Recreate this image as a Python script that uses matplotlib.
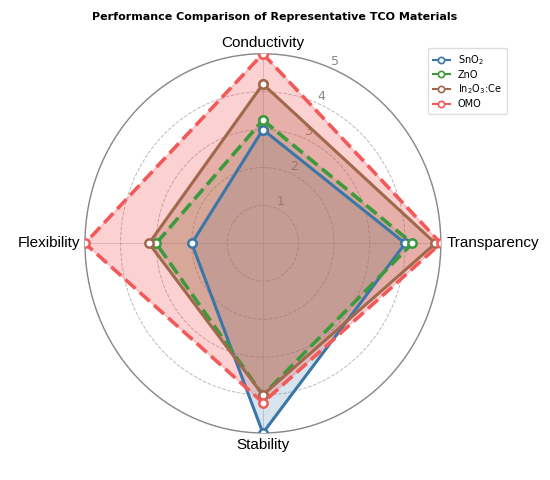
import numpy as np
import matplotlib
matplotlib.use("Agg")
import matplotlib.pyplot as plt

# axes of the radar, clockwise from the top
categories = ["Conductivity", "Transparency", "Stability", "Flexibility"]
materials = ["SnO$_2$", "ZnO", "In$_2$O$_3$:Ce", "OMO"]

sno2 = [3.0, 4.0, 5.0, 2.0]
zno = [3.25, 4.2, 4.0, 3.0]
ito_ce = [4.2, 4.85, 4.0, 3.2]
omo = [5.0, 5.0, 4.2, 5.0]

radial_ticks = [1, 2, 3, 4, 5]

colors = ["#3a76a8", "#3c9a3c", "#a0684c", "#f25a5a"]
styles = ["-", "--", "-", "--"]
fill_alpha = [0.2, 0.15, 0.3, 0.28]

angles = np.linspace(0, 2 * np.pi, len(categories), endpoint=False)
angles_closed = np.concatenate([angles, angles[:1]])

fig = plt.figure(figsize=(5.5, 4.8), dpi=100)
ax = fig.add_axes([0.1545, 0.098, 0.647, 0.79], projection="polar")
ax.set_aspect("auto")
ax.set_theta_offset(np.pi / 2)
ax.set_theta_direction(-1)

series = [sno2, zno, ito_ce, omo]
for vals, name, c, ls, fa in zip(series, materials, colors, styles, fill_alpha):
    v = np.concatenate([vals, vals[:1]])
    lw = 2.2 if ls == "-" else 2.6
    ax.plot(angles_closed, v, color=c, linestyle=ls, linewidth=lw, marker="o",
            markersize=6, markerfacecolor="white", markeredgecolor=c,
            markeredgewidth=1.8, label=name, zorder=3)
    ax.fill(angles_closed, v, color=c, alpha=fa, zorder=2)

ax.set_ylim(0, 5)
ax.set_yticks(radial_ticks)
ax.set_yticklabels([str(t) for t in radial_ticks], color="#888888", fontsize=9)
ax.set_rlabel_position(22.5)
ax.yaxis.grid(True, color="#bbbbbb", linestyle="--", linewidth=0.7)
ax.xaxis.grid(True, color="#cccccc", linestyle="-", linewidth=0.6)
ax.spines["polar"].set_color("#888888")
ax.spines["polar"].set_linewidth(1.0)

# category names placed just outside the outer ring
ax.set_xticks(angles)
ax.set_xticklabels([])
placement = [((0, 3), "center", "bottom"),
             ((4.5, 0), "left", "center"),
             ((0, -3.5), "center", "top"),
             ((-3.5, 0), "right", "center")]
for ang, cat, (off, ha, va) in zip(angles, categories, placement):
    ax.annotate(cat, xy=(ang, 5), xytext=off, textcoords="offset points",
                ha=ha, va=va, fontsize=11, family="Liberation Sans",
                color="black", annotation_clip=False)

fig.suptitle("Performance Comparison of Representative TCO Materials",
             fontsize=8, fontweight="bold", y=0.975)

leg = ax.legend(loc="upper right", bbox_to_anchor=(0.93, 0.91), bbox_transform=fig.transFigure,
                fontsize=7, framealpha=1, edgecolor="#dddddd", handlelength=1.8,
                labelspacing=0.3, borderpad=0.5)
for line in leg.get_lines():
    line.set_linestyle("-")
    line.set_linewidth(1.5)
    line.set_markersize(4.5)
    line.set_markeredgewidth(1.2)

fig.savefig("out.png", dpi=100)
